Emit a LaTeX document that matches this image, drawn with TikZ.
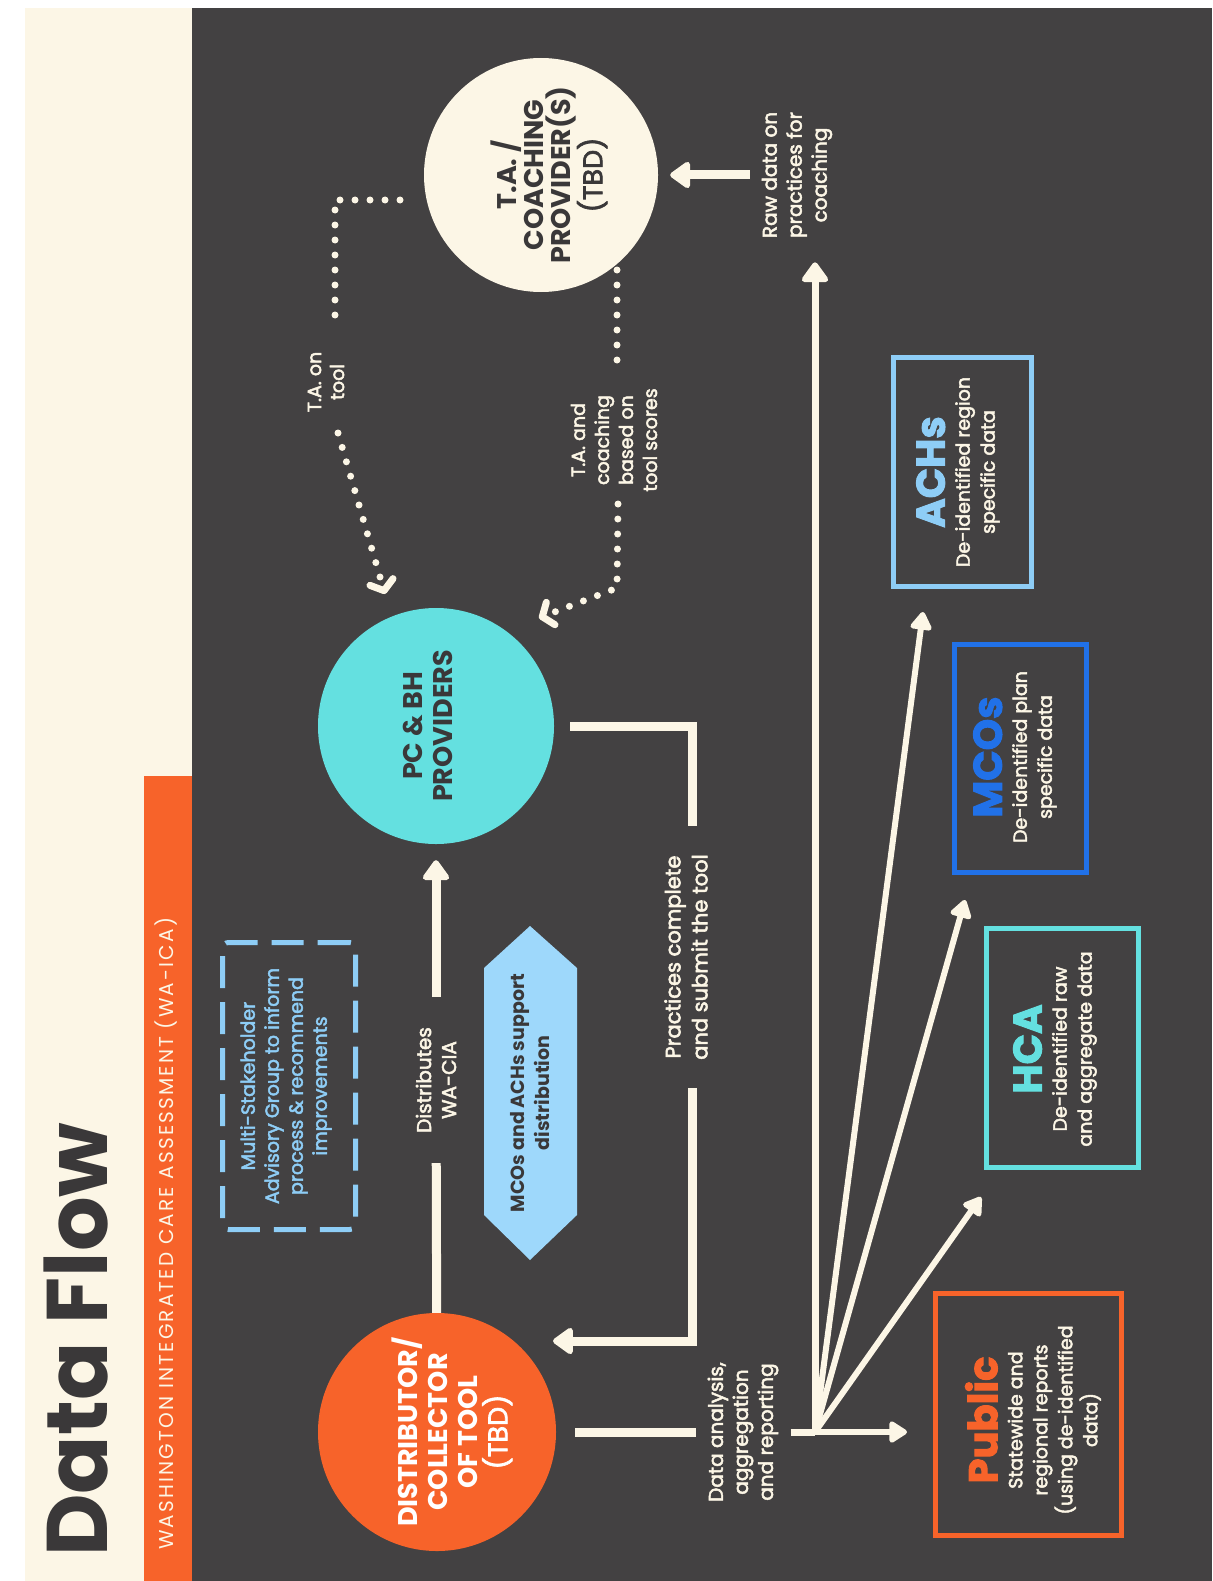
\documentclass[tikz,border=0pt]{standalone}
\usepackage{fontspec}
\setmainfont{Poppins}
\newfontfamily\subfont[LetterSpace=11]{Poppins}
\newfontfamily\medfont[FakeBold=2.5]{Poppins}
\usetikzlibrary{arrows.meta}
\definecolor{bgdark}{HTML}{434142}
\definecolor{creamc}{HTML}{FCF6E6}
\definecolor{orangec}{HTML}{F7632A}
\definecolor{cyanc}{HTML}{64E0E0}
\definecolor{lblue}{HTML}{8ECDF6}
\definecolor{hexblue}{HTML}{9ED8FB}
\definecolor{mblue}{HTML}{2171E8}
\definecolor{titlec}{HTML}{3A3839}
\tikzset{
 cline/.style={draw=creamc,line width=9pt},
 carrow/.style={cline,-{Triangle[width=30pt,length=22pt,round]}},
 fanarrow/.style={draw=creamc,line width=6pt,-{Triangle[width=24pt,length=20pt,round]}},
 dotline/.style={draw=creamc,line width=7pt,line cap=round,dash pattern=on 0pt off 15pt},
 dotarrow/.style={dotline,-{Straight Barb[length=9pt,width=24pt,round]}},
 lbl/.style={rotate=90,text=creamc,align=center,inner sep=2pt,font=\medfont\fontsize{20}{25}\selectfont},
 bubble/.style={circle,inner sep=0pt},
 bubtxt/.style={rotate=90,align=center,font=\bfseries\fontsize{27}{30}\selectfont},
 outbox/.style={draw,line width=5pt,inner sep=0pt},
 boxtxt/.style={rotate=90,align=center,text=creamc,font=\medfont\fontsize{19}{25}\selectfont},
}
\newcommand{\boxtitle}[2]{{\color{#1}\bfseries\fontsize{40}{48}\selectfont #2}}
\begin{document}
\begin{tikzpicture}[x=1pt,y=-1pt]
\useasboundingbox (0,0) rectangle (1212,1581);
\fill[white] (0,0) rectangle (1212,1581);
\fill[creamc] (25,8) rectangle (192,1581);
\fill[bgdark] (192,8) rectangle (1212,1581);
\fill[orangec] (144,776) rectangle (192,1581);

% title and subtitle
\node[rotate=90,anchor=base west,inner sep=0pt,text=titlec,font=\bfseries\fontsize{86}{90}\selectfont] (title) at (107,1557) {Data Flow};
\node[rotate=90,anchor=base west,inner sep=0pt,text=creamc,font=\subfont\fontsize{20}{22}\selectfont] (subtitle) at (173,1550) {WASHINGTON INTEGRATED CARE ASSESSMENT (WA-ICA)};

% advisory group
\node[draw=lblue,line width=5pt,dash pattern=on 32pt off 14pt,rounded corners=6pt,minimum width=133pt,minimum height=287pt] (msag) at (289,1086) {};
\node[rotate=90,align=center,text=lblue,font=\medfont\fontsize{19}{24}\selectfont] (msagt) at (286,1086) {Multi-Stakeholder\\Advisory Group to inform\\process \& recommend\\improvements};

% bubbles
\node[bubble,fill=orangec,minimum size=238pt] (dist) at (437,1432) {};
\node[bubtxt,text=white] (distt) at (452,1432) {DISTRIBUTOR/\\COLLECTOR\\OF TOOL\\{\mdseries\medfont (TBD)}};
\node[bubble,fill=cyanc,minimum size=236pt] (pcbh) at (436,726) {};
\node[bubtxt,text=titlec] (pcbht) at (428,726) {PC \& BH\\PROVIDERS};
\node[bubble,fill=creamc,minimum size=234pt] (ta) at (541,175) {};
\node[bubtxt,text=titlec,font=\bfseries\fontsize{27}{27}\selectfont] (tat) at (549,175) {T.A. /\\COACHING\\PROVIDER(S)\\{\mdseries\medfont (TBD)}};

% hexagon
\fill[hexblue] (484,968) -- (530,926) -- (577,968) -- (577,1215) -- (530,1260) -- (484,1215) -- cycle;
\node[rotate=90,align=center,text=titlec,font=\bfseries\fontsize{19}{25}\selectfont] (hext) at (530,1093) {MCOs and ACHs support\\distribution};

% distributes
\node[lbl,inner xsep=30pt] (distl) at (436,1080) {Distributes\\WA-CIA};
\draw[cline] (dist) -- (distl);
\draw[carrow,shorten >=16pt] (distl) -- (pcbh);

% practices complete
\node[lbl,inner xsep=28pt,font=\medfont\fontsize{21}{27}\selectfont] (pract) at (686,957) {Practices complete\\and submit the tool};
\coordinate (p1) at (692,726);
\coordinate (p2) at (692,1341);
\coordinate (p3) at (553,1341);
\draw[cline] ([xshift=16pt]pcbh.east) -- (p1) -- (p1 |- pract.east);
\draw[carrow] (p1 |- pract.west) -- (p2) -- (p3);

% data analysis
\node[lbl,inner sep=12pt] (datal) at (743,1432) {Data analysis,\\aggregation\\and reporting};
\coordinate (fan) at (815,1432);
\draw[cline,shorten <=19pt] (dist) -- (datal);
\draw[cline,line width=7pt] (datal) -- (fan);

% raw data
\node[lbl,inner sep=12pt] (rawl) at (797,175) {Raw data on\\practices for\\coaching};
\draw[carrow,line width=7pt,shorten >=12pt] (fan) -- (fan |- rawl.west);
\draw[carrow,shorten >=12pt] (rawl) -- (ta);

% fan arrows
\coordinate (tPub) at (907,1432);
\coordinate (tHCA) at (981,1197);
\coordinate (tMCO) at (965,900);
\coordinate (tACH) at (923,612);
\draw[fanarrow] (fan) -- (tPub);
\draw[fanarrow] (fan) -- (tHCA);
\draw[fanarrow] (fan) -- (tMCO);
\draw[fanarrow] (fan) -- (tACH);

% boxes
\node[outbox,draw=lblue,minimum width=138pt,minimum height=229pt] (achs) at (962.5,472) {};
\node[boxtxt] (achst) at (958,472) {\boxtitle{lblue}{ACHs}\\De-identified region\\specific data};
\node[outbox,draw=mblue,minimum width=132pt,minimum height=228pt] (mcos) at (1020.5,758.5) {};
\node[boxtxt] (mcost) at (1015,757) {\boxtitle{mblue}{MCOs}\\De-identified plan\\specific data};
\node[outbox,draw=cyanc,minimum width=152pt,minimum height=239pt] (hca) at (1062.5,1048) {};
\node[boxtxt] (hcat) at (1055,1049) {\boxtitle{cyanc}{HCA}\\De-identified raw\\and aggregate data};
\node[outbox,draw=orangec,minimum width=186pt,minimum height=242pt] (pub) at (1028.5,1414.5) {};
\node[boxtxt] (pubt) at (1033,1420) {\boxtitle{orangec}{Public}\\Statewide and\\regional reports\\(using de-identified\\data)};

% dotted T.A. on tool
\coordinate (d1) at (400,200);
\coordinate (d2) at (335,200);
\coordinate (d3) at (335,325);
\coordinate (d4) at (338,433);
\coordinate (d5) at (385,594);
\node[lbl,font=\medfont\fontsize{19}{23}\selectfont] (taon) at (326,382) {T.A. on\\tool};
\draw[dotline] (d1) -- (d2) -- (d3);
\draw[dotarrow] (d4) -- (d5);

% dotted T.A. and coaching
\coordinate (e1) at (617,270);
\coordinate (e2) at (617,371);
\coordinate (e3) at (618,504);
\coordinate (e4) at (617,588);
\coordinate (e5) at (539,618);
\node[lbl,font=\medfont\fontsize{19}{24}\selectfont] (tacoach) at (614,440) {T.A. and\\coaching\\based on\\tool scores};
\draw[dotline] (e1) -- (e2);
\draw[dotarrow] (e3) -- (e4) -- (e5);
\end{tikzpicture}
\end{document}
